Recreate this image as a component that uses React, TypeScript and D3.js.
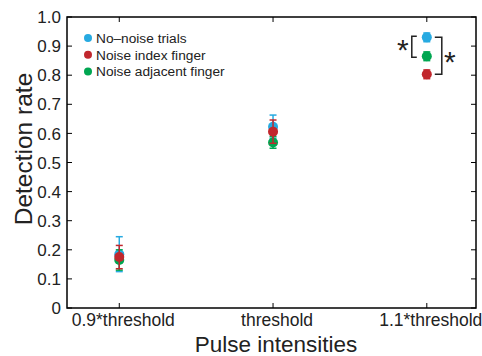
import React from "react";
import * as d3 from "d3";

const categories = ["0.9*threshold", "threshold", "1.1*threshold"];
const seriesNames = ["No\u2013noise trials", "Noise index finger", "Noise adjacent finger"];
const seriesColors = ["#27aae1", "#c1272d", "#00a651"];
const noNoiseMean = [0.185, 0.623, 0.93];
const noNoiseErr = [0.06, 0.04, 0.015];
const indexMean = [0.175, 0.606, 0.803];
const indexErr = [0.04, 0.04, 0.015];
const adjacentMean = [0.165, 0.569, 0.865];
const adjacentErr = [0.035, 0.02, 0.015];
const yTicks = [0, 0.1, 0.2, 0.3, 0.4, 0.5, 0.6, 0.7, 0.8, 0.9, 1.0];

const W = 482, H = 356;
const m = { left: 67, right: 476, top: 17, bottom: 308 };
const FONT = "'Liberation Sans', Arial, Helvetica, sans-serif";

export default function App() {
  const x = d3.scaleLinear().domain([0.66, 3.32]).range([m.left, m.right]);
  const y = d3.scaleLinear().domain([0, 1]).range([m.bottom, m.top]);
  const series = [
    { mean: noNoiseMean, err: noNoiseErr, color: seriesColors[0] },
    { mean: adjacentMean, err: adjacentErr, color: seriesColors[2] },
    { mean: indexMean, err: indexErr, color: seriesColors[1] },
  ];
  const tickLen = 5;
  const cap = 3.5;
  const xs = categories.map((_, i) => i + 1);
  const x3 = x(3);
  return (
    <svg width={W} height={H} style={{ position: "absolute", left: 0, top: 0, background: "#fff" }}>
      {series.map((s, si) => (
        <g key={si}>
          {s.mean.map((v, i) => {
            const cx = x(xs[i]);
            const y1 = y(v + s.err[i]);
            const y0 = y(v - s.err[i]);
            return (
              <g key={i} stroke={s.color} strokeWidth={1.5}>
                <line x1={cx} x2={cx} y1={y1} y2={y0} />
                <line x1={cx - cap} x2={cx + cap} y1={y1} y2={y1} />
                <line x1={cx - cap} x2={cx + cap} y1={y0} y2={y0} />
                <circle cx={cx} cy={y(v)} r={5} fill={s.color} stroke="none" />
              </g>
            );
          })}
        </g>
      ))}
      <rect x={m.left} y={m.top} width={m.right - m.left} height={m.bottom - m.top} fill="none" stroke="#000" strokeWidth={1.5} />
      {yTicks.map((t) => (
        <g key={t}>
          <line x1={m.left} x2={m.left + tickLen} y1={y(t)} y2={y(t)} stroke="#000" strokeWidth={1} />
          <line x1={m.right} x2={m.right - tickLen} y1={y(t)} y2={y(t)} stroke="#000" strokeWidth={1} />
          <text x={m.left - 6} y={y(t)} dy="0.36em" textAnchor="end" fontFamily={FONT} fontSize={17} fill="#222">
            {t === 0 ? "0" : t.toFixed(1)}
          </text>
        </g>
      ))}
      {categories.map((c, i) => (
        <g key={c}>
          <line x1={x(xs[i])} x2={x(xs[i])} y1={m.bottom} y2={m.bottom - tickLen} stroke="#000" strokeWidth={1} />
          <line x1={x(xs[i])} x2={x(xs[i])} y1={m.top} y2={m.top + tickLen} stroke="#000" strokeWidth={1} />
          <text x={x(xs[i])} dx={4} y={m.bottom + 18} textAnchor="middle" fontFamily={FONT} fontSize={17.5} fill="#222">
            {c}
          </text>
        </g>
      ))}
      <text x={276} y={352} textAnchor="middle" fontFamily={FONT} fontSize={22.5} fill="#222">
        Pulse intensities
      </text>
      <text transform={`translate(32,149)rotate(-90)`} textAnchor="middle" fontFamily={FONT} fontSize={24.5} fill="#222">
        Detection rate
      </text>
      {seriesNames.map((n, i) => (
        <g key={n}>
          <circle cx={88} cy={38 + i * 16.7} r={4} fill={seriesColors[i]} />
          <text x={96} y={38 + i * 16.7} dy="0.36em" fontFamily={FONT} fontSize={13.7} fill="#222">
            {n}
          </text>
        </g>
      ))}
      <path d={`M${x3 - 10},${y(noNoiseMean[2]) - 1}H${x3 - 15}V${y(adjacentMean[2]) + 1}H${x3 - 10}`} fill="none" stroke="#222" strokeWidth={1.5} />
      <path d={`M${x3 + 8},${y(noNoiseMean[2])}H${x3 + 15}V${y(indexMean[2])}H${x3 + 8}`} fill="none" stroke="#222" strokeWidth={1.5} />
      <text x={x3 - 24} y={y((noNoiseMean[2] + adjacentMean[2]) / 2) + 13} textAnchor="middle" fontFamily={FONT} fontSize={30} fill="#222">*</text>
      <text x={x3 + 23} y={y((noNoiseMean[2] + indexMean[2]) / 2) + 16} textAnchor="middle" fontFamily={FONT} fontSize={30} fill="#222">*</text>
    </svg>
  );
}
